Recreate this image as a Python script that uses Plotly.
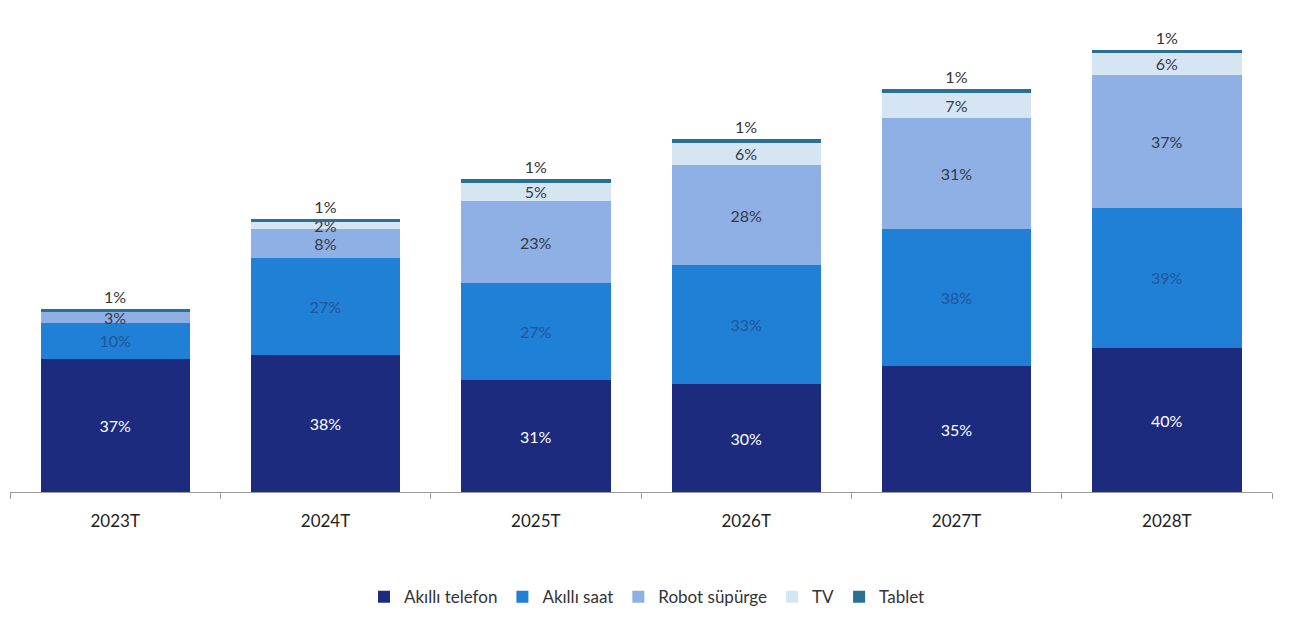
import plotly.graph_objects as go

years = ["2023T", "2024T", "2025T", "2026T", "2027T", "2028T"]

akilli_telefon = [37, 38, 31, 30, 35, 40]
akilli_saat = [10, 27, 27, 33, 38, 39]
robot_supurge = [3, 8, 23, 28, 31, 37]
tv = [0, 2, 5, 6, 7, 6]
tablet = [1, 1, 1, 1, 1, 1]

series = [
    ("Akıllı telefon", akilli_telefon, "#1c2b7e", "white", "inside"),
    ("Akıllı saat", akilli_saat, "#1f80d6", "#22559a", "inside"),
    ("Robot süpürge", robot_supurge, "#8fb0e4", "#333a4a", "inside"),
    ("TV", tv, "#d5e5f1", "#333a4a", "inside"),
    ("Tablet", tablet, "#2a6f94", "#333333", "outside"),
]

fig = go.Figure()
for name, vals, color, tcolor, tpos in series:
    fig.add_trace(go.Bar(
        name=name,
        x=years,
        y=vals,
        marker=dict(color=color, line=dict(width=0)),
        text=[f"{v}%" if v > 0 else "" for v in vals],
        textposition=tpos,
        insidetextanchor="middle",
        textfont=dict(color=tcolor, size=16, family="Lato"),
        outsidetextfont=dict(color=tcolor, size=16, family="Lato"),
        cliponaxis=False,
    ))

fig.update_layout(
    barmode="stack",
    bargap=0.29,
    width=1294,
    height=617,
    margin=dict(l=10, r=22, t=10, b=125),
    paper_bgcolor="white",
    plot_bgcolor="white",
    font=dict(family="Lato", size=16, color="#222222"),
    uniformtext=dict(minsize=16, mode="show"),
    showlegend=True,
    legend=dict(
        orientation="h",
        x=0.5, xanchor="center", xref="container",
        y=0.032, yanchor="middle", yref="container",
        font=dict(size=17, color="#333333"),
        traceorder="normal",
        itemwidth=30,
    ),
    xaxis=dict(
        showline=True, linecolor="#9a9a9a", linewidth=1,
        ticks="outside", tickson="boundaries", ticklen=6, tickcolor="#9a9a9a",
        tickfont=dict(size=17, color="#222222"),
        ticklabelstandoff=14,
        showgrid=False,
    ),
    yaxis=dict(
        range=[0, 134], visible=False, showgrid=False, zeroline=False,
    ),
)

fig.write_html("out.html")
